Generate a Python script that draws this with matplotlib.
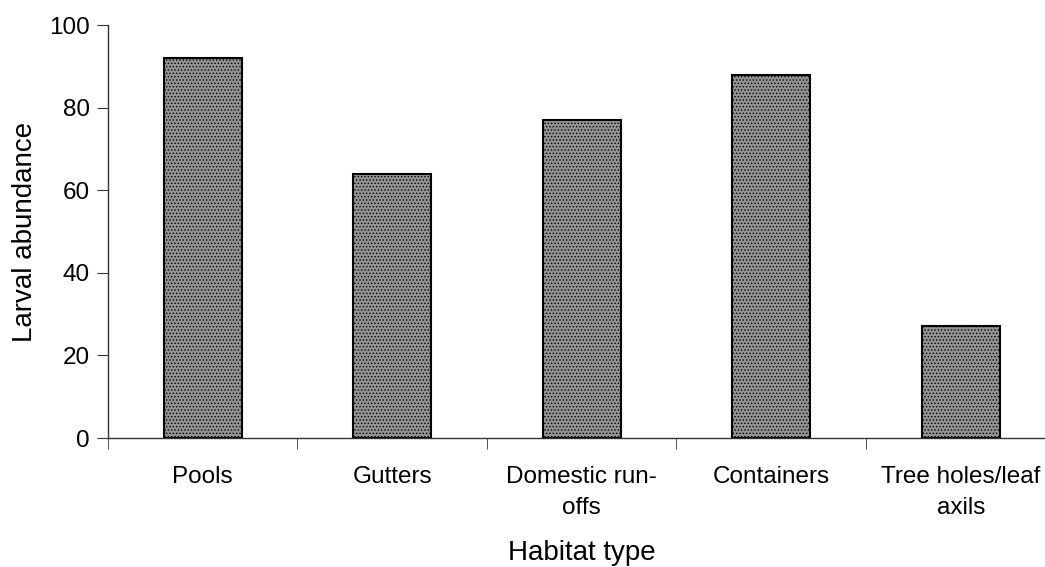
import matplotlib
matplotlib.use("Agg")
import matplotlib.pyplot as plt
import numpy as np

plt.rcParams['font.family'] = ['Liberation Sans', 'DejaVu Sans']
plt.rcParams['hatch.color'] = 'white'
plt.rcParams['hatch.linewidth'] = 0.6

# Data
habitats = ['Pools', 'Gutters', 'Domestic run-\noffs', 'Containers', 'Tree holes/leaf\naxils']
abundance = [92, 64, 77, 88, 27]
yticks = [0, 20, 40, 60, 80, 100]

fig = plt.figure(figsize=(10.45, 5.67), dpi=100)
ax = fig.add_axes([0.1033, 0.2275, 0.9067, 0.7284])

x = np.arange(len(habitats))
ax.bar(x, abundance, width=0.41, color='#939393', edgecolor='black',
       linewidth=1.5, hatch='.....')

ax.set_xlim(-0.5, len(habitats) - 0.5)
ax.set_ylim(0, 100)
ax.set_yticks(yticks)
ax.set_xticks(x)
ax.set_xticklabels(habitats, fontsize=17.5, linespacing=1.55)
ax.set_xticks(np.arange(len(habitats) + 1) - 0.5, minor=True)
ax.tick_params(axis='x', which='major', length=0, pad=20)
ax.tick_params(axis='x', which='minor', length=8, direction='out', color='#333333')
ax.tick_params(axis='y', length=8, direction='out', labelsize=17.5, pad=5, color='#333333')

for s in ['top', 'right']:
    ax.spines[s].set_visible(False)
for s in ['left', 'bottom']:
    ax.spines[s].set_color('#333333')
    ax.spines[s].set_linewidth(1)

ax.set_xlabel('Habitat type', fontsize=20, labelpad=15)
ax.set_ylabel('Larval abundance', fontsize=20, labelpad=8)

fig.savefig('out.png', dpi=100)
